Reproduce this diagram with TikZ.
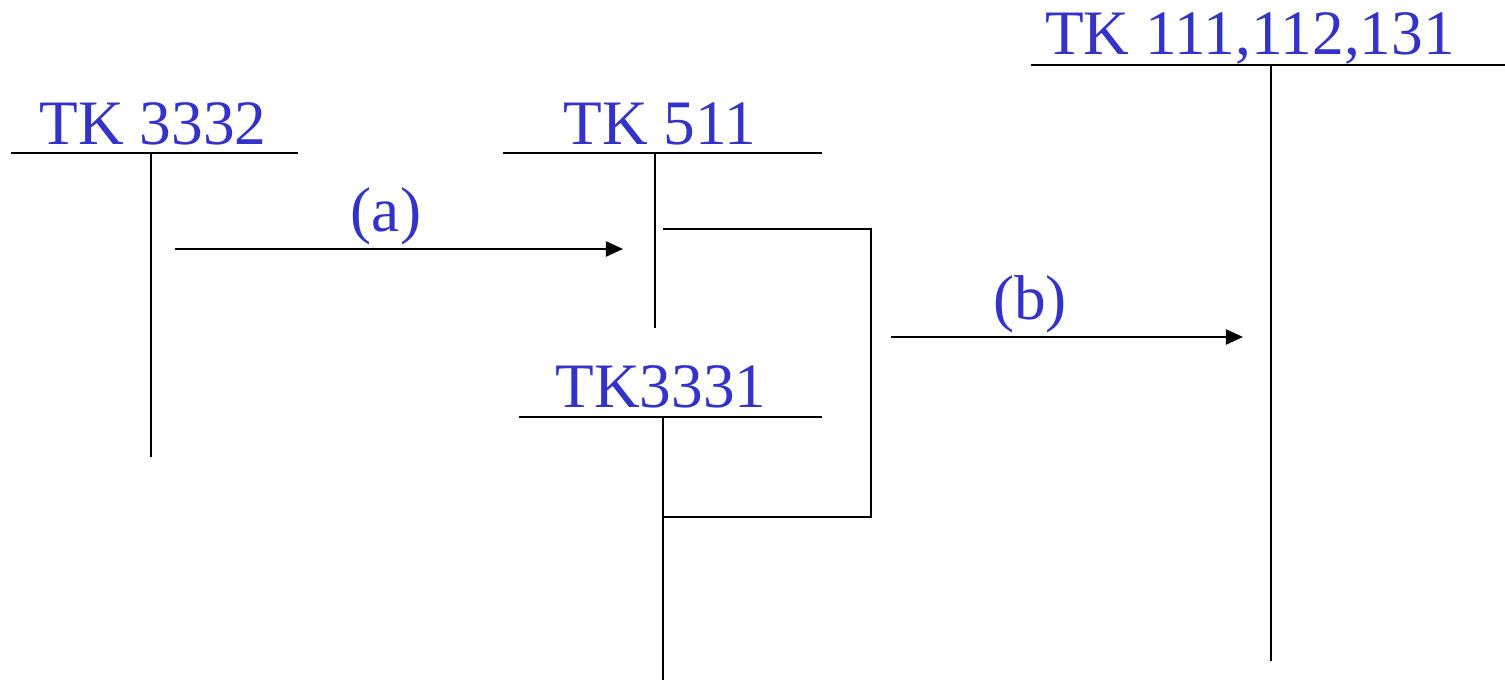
\documentclass[tikz,border=0pt]{standalone}
\usepackage{fontspec}
\setmainfont{Liberation Serif}
\usetikzlibrary{arrows.meta}
\definecolor{tkblue}{RGB}{51,51,204}
\tikzset{
  lbl/.style={text=tkblue, font=\fontsize{18pt}{20pt}\selectfont, inner sep=0pt, anchor=base},
  wire/.style={draw=black, line width=0.6pt},
  flow/.style={wire, -{Triangle[length=0.17cm,width=0.15cm]}}
}
\begin{document}
\begin{tikzpicture}[x=0.01cm,y=-0.01cm]
\useasboundingbox (0,0) rectangle (1505,680);

% group labels
\node[lbl] (l3332) at (153,145) {TK 3332};
\node[lbl] (l511)  at (660,145) {TK 511};
\node[lbl] (l3331) at (661,408) {TK3331};
\node[lbl] (l111)  at (1250,55) {TK 111,112,131};
\node[lbl] (la)    at (386,232) {(a)};
\node[lbl] (lb)    at (1030,320) {(b)};

% TK 3332 tee
\coordinate (a1) at (11,153);  \coordinate (a2) at (298,153);
\coordinate (a3) at (151,153); \coordinate (a4) at (151,457);
\draw[wire] (a1) -- (a2);
\draw[wire] (a3) -- (a4);

% TK 511 tee
\coordinate (b1) at (503,153); \coordinate (b2) at (822,153);
\coordinate (b3) at (655,153); \coordinate (b4) at (655,328);
\draw[wire] (b1) -- (b2);
\draw[wire] (b3) -- (b4);

% TK3331 tee
\coordinate (c1) at (519,417); \coordinate (c2) at (822,417);
\coordinate (c3) at (663,417); \coordinate (c4) at (663,680);
\draw[wire] (c1) -- (c2);
\draw[wire] (c3) -- (c4);

% TK 111,112,131 tee
\coordinate (d1) at (1031,65);  \coordinate (d2) at (1505,65);
\coordinate (d3) at (1271,65);  \coordinate (d4) at (1271,661);
\draw[wire] (d1) -- (d2);
\draw[wire] (d3) -- (d4);

% bracket joining TK 511 and TK3331
\coordinate (k1) at (663,229); \coordinate (k2) at (871,229);
\coordinate (k3) at (871,517); \coordinate (k4) at (663,517);
\draw[wire] (k1) -- (k2) -- (k3) -- (k4);

% transfers
\coordinate (fa1) at (175,249); \coordinate (fa2) at (623,249);
\draw[flow] (fa1) -- (fa2);
\coordinate (fb1) at (891,337); \coordinate (fb2) at (1243,337);
\draw[flow] (fb1) -- (fb2);
\end{tikzpicture}
\end{document}
